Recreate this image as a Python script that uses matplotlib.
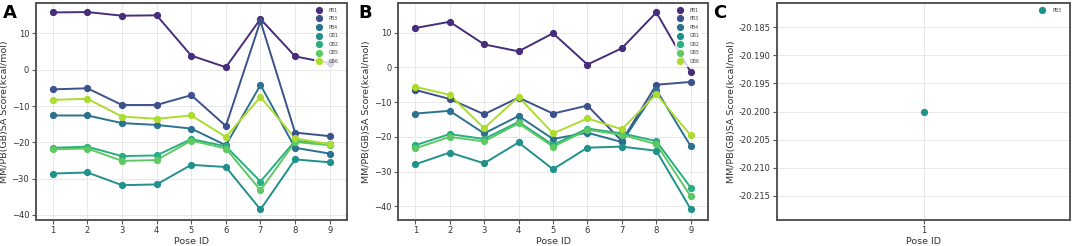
import matplotlib
matplotlib.use("Agg")
import matplotlib.pyplot as plt
import numpy as np

pose_ids = [1, 2, 3, 4, 5, 6, 7, 8, 9]
series_names = ["PB1", "PB3", "PB4", "GB1", "GB2", "GB5", "GB6"]

# Panel A
a_PB1 = [15.8, 15.9, 14.9, 15.0, 3.9, 0.7, 14.0, 3.7, 1.8]
a_PB3 = [-5.4, -5.1, -9.7, -9.7, -7.0, -15.5, 13.4, -17.3, -18.3]
a_PB4 = [-12.6, -12.6, -14.7, -15.2, -16.2, -20.8, -4.2, -21.5, -23.1]
a_GB1 = [-28.6, -28.3, -31.8, -31.6, -26.2, -26.8, -38.5, -24.7, -25.5]
a_GB2 = [-21.5, -21.2, -23.8, -23.6, -19.1, -21.1, -30.8, -19.6, -20.4]
a_GB5 = [-21.9, -21.7, -25.1, -24.9, -19.5, -21.7, -33.2, -19.9, -20.8]
a_GB6 = [-8.3, -8.0, -12.9, -13.5, -12.6, -18.5, -7.5, -18.9, -20.5]

# Panel B
b_PB1 = [11.3, 13.1, 6.6, 4.6, 9.8, 0.8, 5.5, 15.8, -1.4]
b_PB3 = [-6.5, -9.1, -13.5, -8.7, -13.3, -11.0, -21.2, -5.0, -4.2]
b_PB4 = [-13.3, -12.5, -19.0, -14.0, -20.6, -18.8, -21.5, -6.5, -22.7]
b_GB1 = [-27.9, -24.5, -27.6, -21.6, -29.3, -23.1, -22.8, -24.0, -40.8]
b_GB2 = [-22.4, -19.2, -20.6, -15.7, -22.3, -17.6, -19.0, -21.2, -34.6]
b_GB5 = [-23.3, -20.0, -21.3, -16.1, -22.8, -18.0, -19.4, -22.1, -37.1]
b_GB6 = [-5.6, -7.9, -17.5, -8.5, -19.0, -14.7, -17.8, -7.7, -19.6]

# Panel C
c_pose = [1]
c_PB3 = [-20.200]
c_names = ["PB3"]

panel_a = [a_PB1, a_PB3, a_PB4, a_GB1, a_GB2, a_GB5, a_GB6]
panel_b = [b_PB1, b_PB3, b_PB4, b_GB1, b_GB2, b_GB5, b_GB6]

cmap = plt.get_cmap("viridis")
colors = [cmap(p) for p in np.linspace(0, 1, len(series_names) + 2)[1:-1]]
c_color = cmap(0.5)

W, H = 1072, 246
fig = plt.figure(figsize=(W / 100, H / 100), dpi=100)

def fb(l, r, t, b):
    return [l / W, 1 - b / H, (r - l) / W, (b - t) / H]

axA = fig.add_axes(fb(35.5, 347, 3, 220))
axB = fig.add_axes(fb(398, 708, 3, 220))
axC = fig.add_axes(fb(777, 1070, 3, 220))

def style(ax):
    ax.set_facecolor("white")
    ax.grid(True, color="#e8e8e8", linewidth=0.7)
    ax.set_axisbelow(True)
    for s in ax.spines.values():
        s.set_color("#555555")
        s.set_linewidth(1.4)
    ax.tick_params(axis="both", direction="out", length=3, width=0.8,
                   colors="#555555", labelcolor="#333333", labelsize=6, pad=1.5)
    ax.set_xlabel("Pose ID", fontsize=6.8, color="#333333", labelpad=1)
    ax.set_ylabel("MM/PB(GB)SA Score(kcal/mol)", fontsize=6.8, color="#333333", labelpad=2)

def legend(ax):
    leg = ax.legend(loc="upper right", bbox_to_anchor=(1.0, 1.018),
                    fontsize=3.4, frameon=True, framealpha=0.8,
                    edgecolor="none", handletextpad=1.6, labelspacing=0.75,
                    borderaxespad=1.2, markerscale=1.0, handlelength=1.0,
                    borderpad=0.6)
    for t in leg.get_texts():
        t.set_color("#444444")

for ax, data in [(axA, panel_a), (axB, panel_b)]:
    for name, vals, col in zip(series_names, data, colors):
        ax.plot(pose_ids, vals, color=col, linewidth=1.4, zorder=2)
        ax.plot(pose_ids, vals, linestyle="none", marker="o", markersize=4.2,
                color=col, label=name, zorder=3)
    style(ax)
    ax.set_xlim(0.5, 9.5)
    ax.set_xticks(pose_ids)
    ax.set_yticks([-40, -30, -20, -10, 0, 10])
    legend(ax)

axA.set_ylim(-41.4, 18.4)
axB.set_ylim(-43.9, 18.5)

axC.plot(c_pose, c_PB3, linestyle="none", marker="o", markersize=4.2,
         color=c_color, label=c_names[0])
style(axC)
axC.set_xlim(0.0, 2.0)
axC.set_xticks(c_pose)
axC.set_ylim(-20.2193, -20.1807)
axC.set_yticks([-20.215, -20.210, -20.205, -20.200, -20.195, -20.190, -20.185])
axC.yaxis.set_major_formatter(matplotlib.ticker.FormatStrFormatter("%.3f"))
legend(axC)

for x, lab in [(3, "A"), (358, "B"), (713, "C")]:
    fig.text(x / W, 1 - 4 / H, lab, fontsize=13, fontweight="bold",
             ha="left", va="top", color="black")

fig.savefig("out.png", dpi=100)
